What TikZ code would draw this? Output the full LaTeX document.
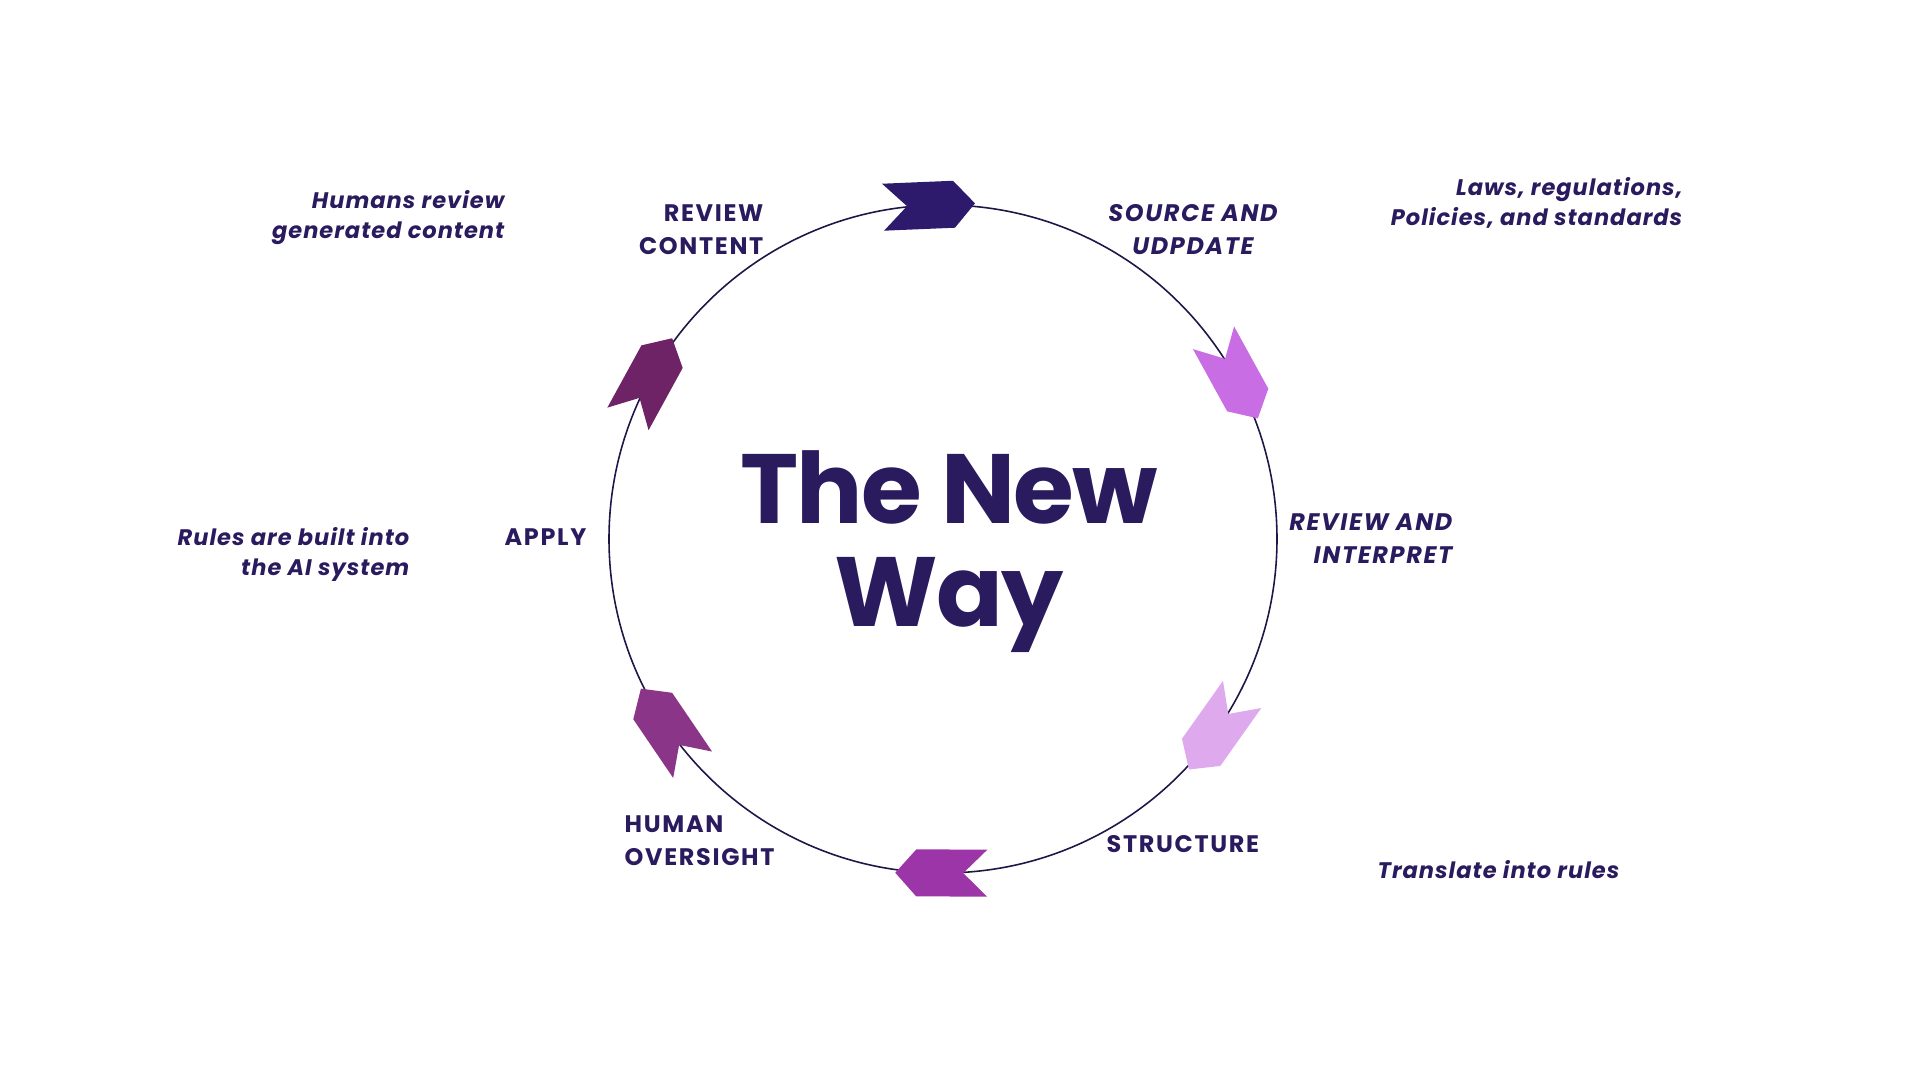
\documentclass[tikz,border=0pt]{standalone}
\usepackage{fontspec}
\setmainfont{Poppins}

\definecolor{ink}{HTML}{2A1A5E}
\definecolor{ringline}{HTML}{1F1547}
\definecolor{arrA}{HTML}{2D1A6C}
\definecolor{arrB}{HTML}{C86DE3}
\definecolor{arrC}{HTML}{DFA9EE}
\definecolor{arrD}{HTML}{9C36A8}
\definecolor{arrE}{HTML}{8B3589}
\definecolor{arrF}{HTML}{6D2366}

\tikzset{
  stage/.style={inner sep=0pt, text=ink, font=\fontsize{6.8}{9.4}\selectfont\bfseries\addfontfeature{LetterSpace=7}},
  stageit/.style={stage, font=\fontsize{6.8}{9.4}\selectfont\bfseries\itshape\addfontfeature{LetterSpace=7}},
  note/.style={inner sep=0pt, text=ink, align=right, font=\fontsize{6.4}{8.6}\selectfont\bfseries\itshape\addfontfeature{LetterSpace=4.5}},
  title/.style={inner sep=0pt, text=ink, align=center, font=\fontsize{28}{29.3}\selectfont\bfseries\addfontfeature{LetterSpace=-1.7}},
}

\begin{document}
\begin{tikzpicture}[x=0.01cm, y=0.01cm]
  \useasboundingbox (0,0) rectangle (1920,1080);

  % cycle ring
  \coordinate (c) at (943,541);
  \draw[ringline, line width=0.45pt] (c) circle[radius=334];

  % chevrons, clockwise
  \foreach \ang/\col in {92.4/arrA, 28.8/arrB, -35.3/arrC, -90.3/arrD, -145.8/arrE, 151.3/arrF}
    \fill[\col, shift={(c)}, shift={(\ang:334)}, rotate={\ang-90}]
      (-46,23.5) -- (25,23.5) -- (46,0) -- (25,-23.5) -- (-46,-23.5) -- (-22,0) -- cycle;

  % title
  \node[title, anchor=base] (title) at (949,453) {The New\\Way};

  % stage labels
  \node[stage, align=right, anchor=base east] (review) at (764,825) {REVIEW\\CONTENT};
  \node[stageit, align=center, anchor=base] (source) at (1193,825) {SOURCE AND\\UDPDATE};
  \node[stageit, align=right, anchor=base east] (interpret) at (1453,516) {REVIEW AND\\INTERPRET};
  \node[stage, anchor=base west] (structure) at (1106,227) {STRUCTURE};
  \node[stage, align=left, anchor=base west] (human) at (624,214) {HUMAN\\OVERSIGHT};
  \node[stage, anchor=base east] (apply) at (587,534) {APPLY};

  % notes
  \node[note, anchor=base east] (humansnote) at (505,841) {Humans review\\generated content};
  \node[note, anchor=base east] (lawsnote) at (1683,854) {Laws, regulations,\\Policies, and standards};
  \node[note, anchor=base east] (rulesnote) at (410,504) {Rules are built into\\the AI system};
  \node[note, align=left, anchor=base west] (translatenote) at (1377,201) {Translate into rules};
\end{tikzpicture}
\end{document}
